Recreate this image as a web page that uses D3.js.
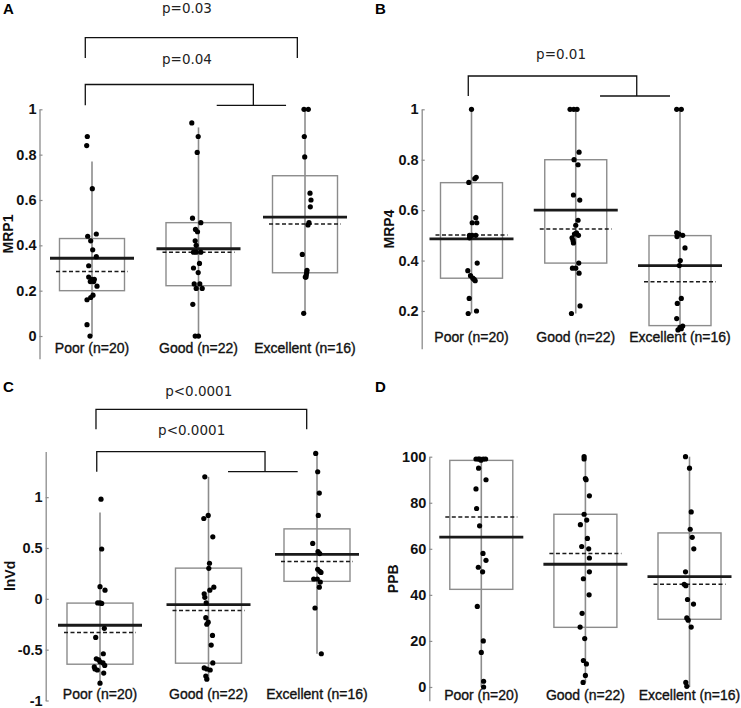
<!DOCTYPE html>
<html>
<head>
<meta charset="utf-8">
<script src="https://cdn.jsdelivr.net/npm/d3@7"></script>
<style>
body { margin: 0; background: #fff; }
svg { display: block; }
</style>
</head>
<body>
<svg id="chart" width="741" height="708"></svg>
<script>
let categories = ["Poor (n=20)", "Good (n=22)", "Excellent (n=16)"];

// A: MRP1
let mrp1Values = [
    [0.88, 0.84, 0.65, 0.45, 0.44, 0.42, 0.38, 0.35, 0.31, 0.26, 0.25, 0.25, 0.24, 0.24, 0.22, 0.18, 0.17, 0.16, 0.05, 0],
    [0.94, 0.88, 0.81, 0.52, 0.5, 0.47, 0.46, 0.42, 0.4, 0.37, 0.37, 0.37, 0.32, 0.3, 0.28, 0.23, 0.23, 0.21, 0.21, 0.14, 0, 0],
    [1, 1, 0.88, 0.79, 0.63, 0.6, 0.57, 0.5, 0.49, 0.36, 0.29, 0.28, 0.27, 0.26, 0.26, 0.1],
];
let mrp1Jitter = [
    [-4.7, -5.3, 0.3, 4.3, -4.3, -1.3, 0.7, 4.3, -3.3, -3.3, 0.3, 2.3, -1.7, 1.7, 5, 1, -1.3, -5, -5, -2],
    [-6.7, -0.3, -1.3, -6, 2.3, -3, -1, -3.3, -2.3, -5, -2.3, 2.3, 1, -5, -0.3, -4.3, 1.3, -2.3, 3.7, -5.7, -3.3, 0],
    [-1, 3.3, -0.7, -0.3, 5, 6, 5.3, 4, 3, -2.7, 2, 1.7, 1.3, 1, 0.3, -1.3],
];
let mrp1BoxLow = [0.2, 0.222, 0.279];
let mrp1BoxHigh = [0.43, 0.5, 0.707];
let mrp1Median = [0.343, 0.385, 0.524];
let mrp1Mean = [0.285, 0.37, 0.494];
let mrp1WhiskerLow = [0, 0, 0.1];
let mrp1WhiskerHigh = [0.77, 0.92, 1];
let mrp1Ticks = [0, 0.2, 0.4, 0.6, 0.8, 1];

// B: MRP4
let mrp4Values = [
    [1, 0.73, 0.725, 0.71, 0.57, 0.55, 0.55, 0.5, 0.5, 0.5, 0.49, 0.39, 0.36, 0.34, 0.33, 0.325, 0.32, 0.25, 0.2, 0.19],
    [1, 1, 1, 0.83, 0.8, 0.78, 0.66, 0.64, 0.56, 0.54, 0.51, 0.505, 0.5, 0.49, 0.48, 0.47, 0.39, 0.37, 0.37, 0.35, 0.22, 0.19],
    [1, 1, 0.51, 0.505, 0.5, 0.495, 0.45, 0.4, 0.38, 0.25, 0.23, 0.17, 0.14, 0.135, 0.13, 0.125],
];
let mrp4Jitter = [
    [0, 4.7, 3.3, -2.7, 4.3, 0.7, 5.3, -2, 0.7, 4.3, -2, 5.7, -3.7, -1, 1.3, 2.7, 3.7, -2.3, 5, -3.3],
    [-5.7, -2, 1.3, 3.3, -1.7, 2.3, -2.3, 4, 2.3, 0, 0.7, -1.3, 2.7, -3.7, -2.7, -2.3, 3, -3.3, 0, 3.3, 4.3, -4.3],
    [-3.3, 1.3, -3.3, -1, 2.7, -3, 5, 0.3, -0.7, 1.3, -2.7, -3.3, 2.7, 0, 1.3, -2],
];
let mrp4BoxLow = [0.33, 0.39, 0.142];
let mrp4BoxHigh = [0.709, 0.8, 0.499];
let mrp4Median = [0.486, 0.6, 0.38];
let mrp4Mean = [0.501, 0.525, 0.316];
let mrp4WhiskerLow = [0.19, 0.19, 0.125];
let mrp4WhiskerHigh = [1, 1, 1];
let mrp4Ticks = [0.2, 0.4, 0.6, 0.8, 1];

// C: lnVd
let lnVdValues = [
    [0.98, 0.49, 0.12, 0.085, -0.04, -0.04, -0.045, -0.29, -0.38, -0.54, -0.59, -0.6, -0.62, -0.63, -0.655, -0.67, -0.69, -0.7, -0.73, -0.83],
    [1.2, 0.82, 0.79, 0.61, 0.35, 0.3, 0.115, 0.085, 0.05, 0.015, -0.04, -0.185, -0.23, -0.25, -0.36, -0.455, -0.63, -0.68, -0.69, -0.7, -0.76, -0.79],
    [1.43, 1.25, 1.04, 0.82, 0.545, 0.465, 0.445, 0.29, 0.27, 0.26, 0.195, 0.195, 0.165, 0.115, -0.09, -0.54],
];
let lnVdJitter = [
    [1, 1.7, 0, 5, -2.3, 0, 1.7, 4.3, -4.3, 3.3, -3.7, -1.3, 0, 3, 4.7, -5.7, -5, -2.7, 3.7, 0],
    [-3.7, -0.3, -4.7, 4.3, 1, 0.3, 5.3, 1.3, -4.3, -3.7, -2.3, -2.7, -0.3, -1.7, 4, 2.7, 4.3, -4.3, -1.7, 1.7, -2.7, -1.7],
    [-1.3, 0.7, 2.3, 1.3, -4.3, 1, 2.7, 0.7, 2.7, 4, -3.3, 0.3, 3.3, 2.3, -2, 4.3],
];
let lnVdBoxLow = [-0.643, -0.633, 0.172];
let lnVdBoxHigh = [-0.042, 0.302, 0.688];
let lnVdMedian = [-0.26, -0.058, 0.438];
let lnVdMean = [-0.331, -0.114, 0.367];
let lnVdWhiskerLow = [-0.83, -0.79, -0.54];
let lnVdWhiskerHigh = [0.85, 1.2, 1.43];
let lnVdTicks = [-1, -0.5, 0, 0.5, 1];

// D: PPB
let ppbValues = [
    [99, 99, 98.5, 99, 99, 99, 95, 90, 86, 77.5, 70, 58, 55, 52, 50, 35, 20, 15, 2.5, 0],
    [100, 99, 90.5, 90, 83, 75, 72.5, 70.5, 64.5, 61, 60, 56, 50, 47, 40, 32, 26, 21, 11.5, 10, 5, 2],
    [100, 95, 76, 68.5, 65, 60, 50, 44.6, 44, 38, 36, 30, 29, 26, 2, 0.3],
];
let ppbJitter = [
    [-5.3, -3, -0.3, 2, 4.3, -1.7, -2.7, 4.7, -5.3, -4.7, -1.7, 1.7, 4.7, -3, 1.3, -4, 2, 0, 2.3, 2.3],
    [-1.3, -1.3, 0, 0.7, 4, -1.3, 1.3, -5, 2, -3.7, 3.3, 4, 4, -2, 3.7, -3.3, -5.3, -0.7, -2, 1, 0, -2.3],
    [-4, 0, 1.7, 0.7, 2.7, 4.3, -4, -5.3, -3.7, -2, 4, -2.7, -1.3, 1.7, -3.7, -2.7],
];
let ppbBoxLow = [42.4, 25.9, 29.4];
let ppbBoxHigh = [98.4, 75, 66.9];
let ppbMedian = [65.1, 53.3, 47.9];
let ppbMean = [73.8, 58, 44.6];
let ppbWhiskerLow = [0, 2, 0];
let ppbWhiskerHigh = [100, 100, 100];
let ppbTicks = [0, 20, 40, 60, 80, 100];

let panels = [
    {
        letter: "A", letterX: 3, letterY: 14, label: "MRP1", labelX: 8.5,
        values: mrp1Values, jitter: mrp1Jitter, boxLow: mrp1BoxLow, boxHigh: mrp1BoxHigh,
        median: mrp1Median, mean: mrp1Mean, whiskerLow: mrp1WhiskerLow, whiskerHigh: mrp1WhiskerHigh,
        ticks: mrp1Ticks, domain: [-0.1, 1], yRange: [358.7, 109.3], axisX: 39.5, xRange: [92, 305],
        boxWidth: 65, catY: 352.5,
        brackets: [
            { x1: -0.063, x2: 1.928, y: 37.7, bottom: 58, text: "p=0.03", textX: 0.892, textY: 12.5 },
            { x1: -0.063, x2: 1.515, y: 84.5, bottom: 105.3, sub: [1.171, 1.822], text: "p=0.04", textX: 0.892, textY: 64 },
        ],
    },
    {
        letter: "B", letterX: 375, letterY: 14, label: "MRP4", labelX: 389,
        values: mrp4Values, jitter: mrp4Jitter, boxLow: mrp4BoxLow, boxHigh: mrp4BoxHigh,
        median: mrp4Median, mean: mrp4Mean, whiskerLow: mrp4WhiskerLow, whiskerHigh: mrp4WhiskerHigh,
        ticks: mrp4Ticks, domain: [0.05, 1], yRange: [348.8, 109.3], axisX: 421.7, xRange: [471.5, 680],
        boxWidth: 62, catY: 342,
        brackets: [
            { x1: -0.031, x2: 1.585, y: 76, bottom: 96, sub: [1.233, 1.904], text: "p=0.01", textX: 0.859, textY: 58.5 },
        ],
    },
    {
        letter: "C", letterX: 3, letterY: 392, label: "lnVd", labelX: 10,
        values: lnVdValues, jitter: lnVdJitter, boxLow: lnVdBoxLow, boxHigh: lnVdBoxHigh,
        median: lnVdMedian, mean: lnVdMean, whiskerLow: lnVdWhiskerLow, whiskerHigh: lnVdWhiskerHigh,
        ticks: lnVdTicks, domain: [-1, 1.45], yRange: [700.5, 451.4], axisX: 45.7, xRange: [100, 317],
        boxWidth: 66, catY: 699,
        brackets: [
            { x1: -0.037, x2: 1.905, y: 409.3, bottom: 429.3, text: "p<0.0001", textX: 0.91, textY: 396 },
            { x1: -0.03, x2: 1.521, y: 451.7, bottom: 471.7, sub: [1.18, 1.822], text: "p<0.0001", textX: 0.845, textY: 434.5 },
        ],
    },
    {
        letter: "D", letterX: 375, letterY: 392, label: "PPB", labelX: 393,
        values: ppbValues, jitter: ppbJitter, boxLow: ppbBoxLow, boxHigh: ppbBoxHigh,
        median: ppbMedian, mean: ppbMean, whiskerLow: ppbWhiskerLow, whiskerHigh: ppbWhiskerHigh,
        ticks: ppbTicks, domain: [-6, 100], yRange: [700.8, 456.7], axisX: 429.3, xRange: [481.3, 689.5],
        boxWidth: 63, catY: 700,
        brackets: [],
    },
];

let grey = "#8c8c8c";
let sans = "Liberation Sans, Arial, sans-serif";
let svg = d3.select("#chart");

for (let p of panels) {
    let g = svg.append("g");
    let y = d3.scaleLinear().domain(p.domain).range(p.yRange);
    let x = d3.scalePoint().domain(categories).range(p.xRange);
    let xi = d3.scaleLinear().domain([0, 2]).range(p.xRange);

    g.append("text")
        .attr("x", p.letterX).attr("y", p.letterY)
        .attr("font-family", sans)
        .attr("font-size", 15).attr("font-weight", "bold")
        .text(p.letter);

    let axis = d3.axisLeft(y)
        .tickValues(p.ticks)
        .tickFormat(d => String(d))
        .tickSizeInner(-3)
        .tickSizeOuter(0)
        .tickPadding(3);
    let ag = g.append("g").attr("transform", `translate(${p.axisX},0)`).call(axis);
    ag.select(".domain").attr("stroke", grey).attr("stroke-width", 1.3);
    ag.selectAll(".tick line").attr("stroke", grey).attr("stroke-width", 1.2);
    ag.selectAll(".tick text")
        .attr("fill", "#111")
        .attr("font-family", sans)
        .attr("font-size", 14.5).attr("font-weight", "bold");

    let labelY = (p.yRange[0] + p.yRange[1]) / 2;
    g.append("text")
        .attr("transform", `translate(${p.labelX},${labelY}) rotate(-90)`)
        .attr("text-anchor", "middle").attr("dy", "0.35em")
        .attr("font-family", sans)
        .attr("font-size", 14).attr("font-weight", "bold").attr("fill", "#111")
        .text(p.label);

    categories.forEach((cat, i) => {
        let cx = x(cat);
        g.append("rect")
            .attr("x", cx - p.boxWidth / 2).attr("y", y(p.boxHigh[i]))
            .attr("width", p.boxWidth).attr("height", y(p.boxLow[i]) - y(p.boxHigh[i]))
            .attr("fill", "none").attr("stroke", grey).attr("stroke-width", 1.4);
        g.append("line")
            .attr("x1", cx).attr("x2", cx)
            .attr("y1", y(p.whiskerLow[i])).attr("y2", y(p.whiskerHigh[i]))
            .attr("stroke", grey).attr("stroke-width", 1.6);
        g.append("line")
            .attr("x1", cx - 42).attr("x2", cx + 42)
            .attr("y1", y(p.median[i])).attr("y2", y(p.median[i]))
            .attr("stroke", "#1a1a1a").attr("stroke-width", 2.8);
        g.append("line")
            .attr("x1", cx - 36).attr("x2", cx + 36)
            .attr("y1", y(p.mean[i])).attr("y2", y(p.mean[i]))
            .attr("stroke", "#1a1a1a").attr("stroke-width", 1.5)
            .attr("stroke-dasharray", "4,2.5");
        g.selectAll(null)
            .data(p.values[i])
            .enter()
            .append("circle")
            .attr("cx", (d, j) => cx + p.jitter[i][j])
            .attr("cy", d => y(d))
            .attr("r", 2.6)
            .attr("fill", "#000");
        g.append("text")
            .attr("x", cx).attr("y", p.catY)
            .attr("text-anchor", "middle")
            .attr("font-family", sans)
            .attr("font-size", 14).attr("fill", "#111")
            .attr("stroke", "#111").attr("stroke-width", 0.35)
            .text(cat);
    });

    for (let b of p.brackets) {
        g.append("path")
            .attr("d", `M${xi(b.x1)},${b.bottom}V${b.y}H${xi(b.x2)}V${b.bottom}`)
            .attr("fill", "none").attr("stroke", "#111").attr("stroke-width", 1.3);
        if (b.sub) {
            g.append("line")
                .attr("x1", xi(b.sub[0])).attr("x2", xi(b.sub[1]))
                .attr("y1", b.bottom).attr("y2", b.bottom)
                .attr("stroke", "#111").attr("stroke-width", 1.3);
        }
        g.append("text")
            .attr("x", xi(b.textX)).attr("y", b.textY)
            .attr("text-anchor", "middle")
            .attr("font-family", "DejaVu Sans, Verdana, sans-serif")
            .attr("font-size", 13.5).attr("fill", "#222")
            .text(b.text);
    }
}
</script>
</body>
</html>
